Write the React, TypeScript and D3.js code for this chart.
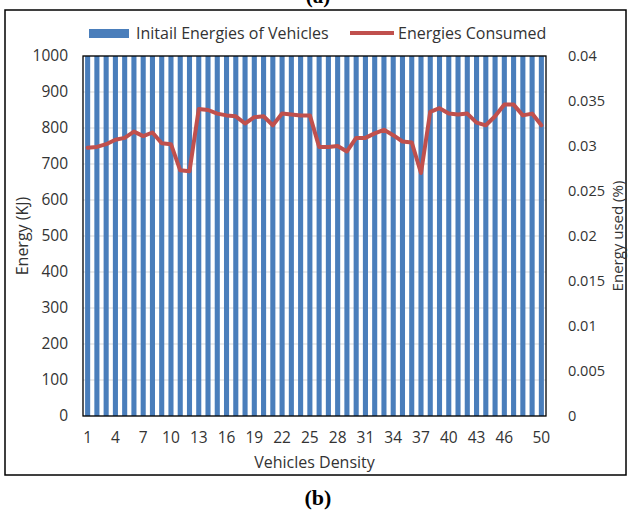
import React, { useEffect, useRef } from "react";
import * as d3 from "d3";

const densities = [
  1, 2, 3, 4, 5, 6, 7, 8, 9, 10, 11, 12, 13, 14, 15, 16, 17, 18, 19, 20, 21, 22, 23, 24, 25,
  26, 27, 28, 29, 30, 31, 32, 33, 34, 35, 36, 37, 38, 39, 40, 41, 42, 43, 44, 45, 46, 47, 48, 49, 50,
];

const initialEnergies = [
  1000, 1000, 1000, 1000, 1000, 1000, 1000, 1000, 1000, 1000, 1000, 1000, 1000, 1000, 1000, 1000, 1000,
  1000, 1000, 1000, 1000, 1000, 1000, 1000, 1000, 1000, 1000, 1000, 1000, 1000, 1000, 1000, 1000, 1000,
  1000, 1000, 1000, 1000, 1000, 1000, 1000, 1000, 1000, 1000, 1000, 1000, 1000, 1000, 1000, 1000,
];

const energiesConsumed = [
  0.0298, 0.0299, 0.0302, 0.0307, 0.0309, 0.0316, 0.0311, 0.0315, 0.0303, 0.0302,
  0.0273, 0.0272, 0.0341, 0.034, 0.0336, 0.0334, 0.0333, 0.0325, 0.0332, 0.0333,
  0.0323, 0.0336, 0.0335, 0.0334, 0.0334, 0.0299, 0.0299, 0.03, 0.0294, 0.0309,
  0.0309, 0.0314, 0.0318, 0.0312, 0.0305, 0.0304, 0.027, 0.0338, 0.0342, 0.0336,
  0.0335, 0.0336, 0.0326, 0.0323, 0.0333, 0.0346, 0.0346, 0.0334, 0.0336, 0.0323,
];

const xTickLabels = [1, 4, 7, 10, 13, 16, 19, 22, 25, 28, 31, 34, 37, 40, 43, 46, 50];
const leftTicks = [0, 100, 200, 300, 400, 500, 600, 700, 800, 900, 1000];
const rightTicks = [0, 0.005, 0.01, 0.015, 0.02, 0.025, 0.03, 0.035, 0.04];

const W = 631;
const H = 516;
const FONT = "'Open Sans', sans-serif";

export default function App() {
  const svgRef = useRef<SVGSVGElement>(null);

  useEffect(() => {
    const svg = d3.select(svgRef.current);
    svg.selectAll("*").remove();

    const margin = { top: 56, right: W - 546, bottom: H - 416, left: 83 };
    const width = W - margin.left - margin.right;
    const height = H - margin.top - margin.bottom;

    svg.append("rect").attr("width", W).attr("height", H).attr("fill", "#fff");

    // figure captions ("(a)" is cut by the top edge, as in the source)
    svg.append("text")
      .attr("x", 318).attr("y", 3)
      .attr("text-anchor", "middle")
      .style("font-family", "'Liberation Serif', serif")
      .style("font-weight", "bold").style("font-size", "21px")
      .text("(a)");
    svg.append("text")
      .attr("x", 318).attr("y", 505)
      .attr("text-anchor", "middle")
      .style("font-family", "'Liberation Serif', serif")
      .style("font-weight", "bold").style("font-size", "22px")
      .text("(b)");

    // outer frame
    svg.append("rect")
      .attr("x", 5).attr("y", 10)
      .attr("width", 621).attr("height", 465)
      .attr("fill", "none").attr("stroke", "#000").attr("stroke-width", 1.5);

    const g = svg.append("g").attr("transform", `translate(${margin.left},${margin.top})`);

    const x = d3.scaleBand<number>().domain(densities).range([0, width]).paddingInner(0.45).paddingOuter(0.225);
    const yLeft = d3.scaleLinear().domain([0, 1000]).range([height, 0]);
    const yRight = d3.scaleLinear().domain([0, 0.04]).range([height, 0]);

    // gridlines
    g.selectAll(".grid")
      .data(leftTicks)
      .enter()
      .append("line")
      .attr("x1", 0).attr("x2", width)
      .attr("y1", (d) => yLeft(d)).attr("y2", (d) => yLeft(d))
      .attr("stroke", "#d9d9d9").attr("stroke-width", 1);

    // bars
    g.selectAll(".bar")
      .data(densities)
      .enter()
      .append("rect")
      .attr("x", (d) => x(d)!)
      .attr("y", (d, i) => yLeft(initialEnergies[i]))
      .attr("width", x.bandwidth())
      .attr("height", (d, i) => height - yLeft(initialEnergies[i]))
      .attr("fill", "#4a7ebb");

    // line
    const line = d3.line<number>()
      .x((d, i) => x(densities[i])! + x.bandwidth() / 2)
      .y((d) => yRight(d));
    g.append("path")
      .datum(energiesConsumed)
      .attr("d", line)
      .attr("fill", "none")
      .attr("stroke", "#c0504d")
      .attr("stroke-width", 4)
      .attr("stroke-linejoin", "round")
      .attr("stroke-linecap", "round");

    // plot frame
    g.append("rect")
      .attr("width", width).attr("height", height)
      .attr("fill", "none").attr("stroke", "#000").attr("stroke-width", 1.3);

    const textStyle = (sel: any, size = 16) =>
      sel.style("font-family", FONT).style("font-size", `${size}px`).attr("fill", "#333");

    // left axis labels
    g.selectAll(".ly")
      .data(leftTicks)
      .enter()
      .append("text")
      .attr("x", -15)
      .attr("y", (d) => yLeft(d))
      .attr("dy", "0.35em")
      .attr("text-anchor", "end")
      .text((d) => d)
      .call(textStyle, 15.5);

    // right axis labels
    g.selectAll(".ry")
      .data(rightTicks)
      .enter()
      .append("text")
      .attr("x", width + 22)
      .attr("y", (d) => yRight(d))
      .attr("dy", "0.35em")
      .attr("text-anchor", "start")
      .text((d) => String(d))
      .call(textStyle, 14.5);

    // x labels
    g.selectAll(".xl")
      .data(xTickLabels)
      .enter()
      .append("text")
      .attr("x", (d) => x(d)! + x.bandwidth() / 2)
      .attr("y", height + 22)
      .attr("dy", "0.35em")
      .attr("text-anchor", "middle")
      .text((d) => d)
      .call(textStyle, 15.5);

    // axis titles
    g.append("text")
      .attr("x", width / 2).attr("y", height + 46)
      .attr("dy", "0.35em")
      .attr("text-anchor", "middle")
      .text("Vehicles Density")
      .call(textStyle);
    g.append("text")
      .attr("transform", `translate(${22 - margin.left},${height / 2}) rotate(-90)`)
      .attr("dy", "0.35em")
      .attr("text-anchor", "middle")
      .text("Energy (KJ)")
      .call(textStyle);
    g.append("text")
      .attr("transform", `translate(${618 - margin.left},${height / 2}) rotate(-90)`)
      .attr("dy", "0.35em")
      .attr("text-anchor", "middle")
      .text("Energy used (%)")
      .call(textStyle, 15);

    // legend
    const legend = svg.append("g").attr("transform", "translate(89,33)");
    legend.append("rect").attr("x", 0).attr("y", -4).attr("width", 40).attr("height", 9).attr("fill", "#4a7ebb");
    legend.append("text").attr("x", 47).attr("y", 0).attr("dy", "0.35em")
      .text("Initail Energies of Vehicles").call(textStyle);
    legend.append("line").attr("x1", 261).attr("x2", 305).attr("y1", 0).attr("y2", 0)
      .attr("stroke", "#c0504d").attr("stroke-width", 4);
    legend.append("text").attr("x", 309).attr("y", 0).attr("dy", "0.35em")
      .text("Energies Consumed").call(textStyle);
  }, []);

  return (
    <div style={{ position: "absolute", left: 0, top: 0 }}>
      <svg ref={svgRef} width={W} height={H} style={{ display: "block" }}></svg>
    </div>
  );
}
